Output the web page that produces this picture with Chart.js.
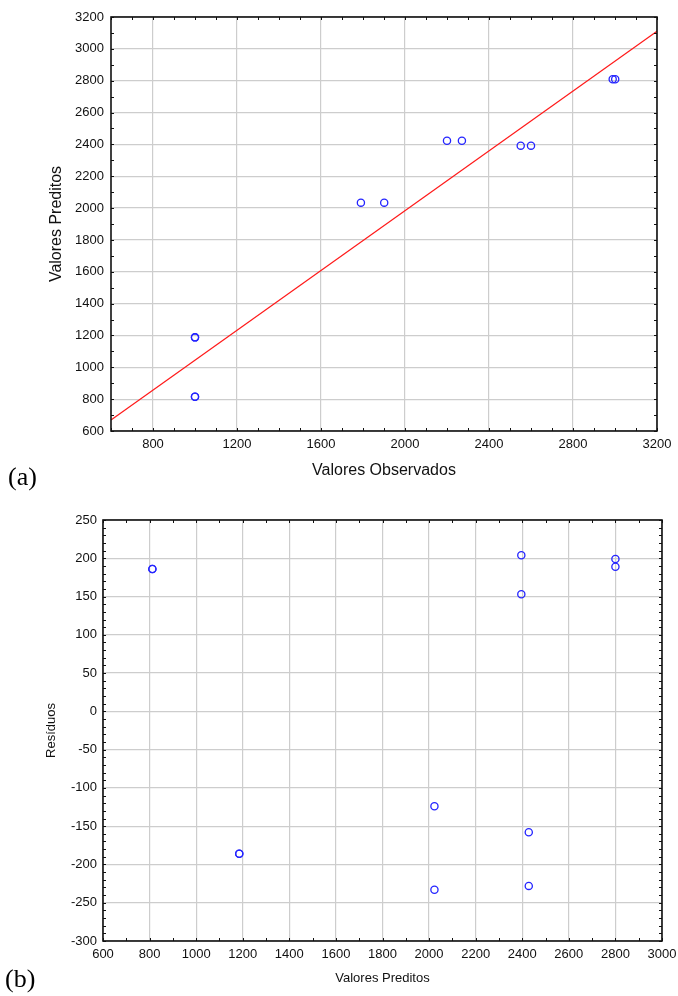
<!DOCTYPE html>
<html>
<head>
<meta charset="utf-8">
<script src="https://cdn.jsdelivr.net/npm/chart.js@4"></script>
<style>
    body { margin: 0; background: #fff; width: 678px; height: 996px; position: relative; overflow: hidden; }
    canvas { position: absolute; left: 0; }
    #chartA { top: 0; }
    #chartB { top: 490px; }
    .tag { position: absolute; font-family: "Liberation Serif", "Times New Roman", serif; font-size: 26px; line-height: 26px; color: #000; }
</style>
</head>
<body>
<canvas id="chartA" width="678" height="490"></canvas>
<canvas id="chartB" width="678" height="506"></canvas>
<div class="tag" style="left:8px; top:464px;">(a)</div>
<div class="tag" style="left:5px; top:966px;">(b)</div>
<script>
/*
    (a) observed vs predicted with fitted line
    (b) residuals vs predicted
*/

// panel (a)
const observados = [1000, 1000, 1000, 1000, 1790, 1901, 2200, 2271, 2551, 2600, 2989, 3001];
const preditosA  = [815, 815, 1188, 1188, 2034, 2034, 2423, 2423, 2392, 2392, 2809, 2809];
const fitX = [600, 3200];
const fitY = [669, 3111];
const ticksXA = [800, 1200, 1600, 2000, 2400, 2800, 3200];
const ticksYA = [600, 800, 1000, 1200, 1400, 1600, 1800, 2000, 2200, 2400, 2600, 2800, 3000, 3200];

// panel (b)
const preditosB = [812, 812, 1185, 1185, 2023, 2023, 2428, 2428, 2396, 2396, 2800, 2800];
const residuos  = [186, 186, -186, -186, -233, -124, -228, -158, 153, 204, 189, 199];
const ticksXB = [600, 800, 1000, 1200, 1400, 1600, 1800, 2000, 2200, 2400, 2600, 2800, 3000];
const ticksYB = [-300, -250, -200, -150, -100, -50, 0, 50, 100, 150, 200, 250];

const FONT = '"Liberation Sans", Arial, sans-serif';

// black box round the plot area with small inward ticks on all four sides
const frameTicks = {
    id: 'frameTicks',
    afterDraw(chart, args, opts) {
        const {ctx, chartArea: a, scales: {x, y}} = chart;
        ctx.save();
        ctx.strokeStyle = '#111';
        ctx.lineWidth = 1;
        ctx.beginPath();
        for (let v = x.min; v <= x.max; v += opts.xStep) {
            const px = Math.round(x.getPixelForValue(v)) + 0.5;
            ctx.moveTo(px, a.top); ctx.lineTo(px, a.top + 3);
            ctx.moveTo(px, a.bottom); ctx.lineTo(px, a.bottom - 3);
        }
        for (let v = y.min; v <= y.max; v += opts.yStep) {
            const py = Math.round(y.getPixelForValue(v)) + 0.5;
            ctx.moveTo(a.left, py); ctx.lineTo(a.left + 3, py);
            ctx.moveTo(a.right, py); ctx.lineTo(a.right - 3, py);
        }
        ctx.stroke();
        ctx.lineWidth = 1.6;
        ctx.strokeRect(a.left, a.top, a.right - a.left, a.bottom - a.top);
        ctx.restore();
    }
};

function fixedTicks(values) {
    return scale => { scale.ticks = values.map(v => ({value: v})); };
}

function axis(opts) {
    return {
        type: 'linear',
        min: opts.min,
        max: opts.max,
        afterBuildTicks: fixedTicks(opts.ticks),
        afterFit: scale => {
            if (scale.isHorizontal()) {
                scale.height = opts.size;
                // edge labels may hang past the plot area; don't shrink it for them
                scale.paddingLeft = 0;
                scale.paddingRight = 0;
            } else {
                scale.width = opts.size;
            }
        },
        border: {display: false},
        grid: {color: '#cdcdcd', lineWidth: 1.2, drawTicks: false},
        ticks: {
            color: '#111',
            padding: opts.padding,
            autoSkip: false,
            maxRotation: 0,
            font: {family: FONT, size: 13},
            // plain numbers, no thousands separator
            callback: value => String(value)
        },
        title: {
            display: true,
            text: opts.title,
            color: '#111',
            padding: opts.titlePad,
            font: {family: FONT, size: opts.titleSize}
        }
    };
}

const pointStyle = {
    type: 'scatter',
    pointRadius: 3.6,
    pointHoverRadius: 3.6,
    pointBackgroundColor: 'rgba(0,0,0,0)',
    pointBorderColor: '#2424ff',
    pointBorderWidth: 1.3
};

const chartA = new Chart('chartA', {
    type: 'scatter',
    data: {
        datasets: [
            Object.assign({
                data: observados.map((v, i) => ({x: v, y: preditosA[i]}))
            }, pointStyle),
            {
                type: 'scatter',
                showLine: true,
                data: fitX.map((v, i) => ({x: v, y: fitY[i]})),
                borderColor: '#ff1a1a',
                borderWidth: 1.2,
                pointRadius: 0
            }
        ]
    },
    options: {
        responsive: false,
        animation: false,
        layout: {padding: {top: 17, right: 21, left: 0, bottom: 0}},
        plugins: {
            legend: {display: false},
            tooltip: {enabled: false},
            frameTicks: {xStep: 100, yStep: 100}
        },
        scales: {
            x: axis({min: 600, max: 3200, ticks: ticksXA, size: 59, padding: 6,
                title: 'Valores Observados', titleSize: 16, titlePad: {top: 0, bottom: 10}}),
            y: axis({min: 600, max: 3200, ticks: ticksYA, size: 111, padding: 7,
                title: 'Valores Preditos', titleSize: 16, titlePad: {top: 47, bottom: 0}})
        }
    },
    plugins: [frameTicks]
});

const chartB = new Chart('chartB', {
    type: 'scatter',
    data: {
        datasets: [
            Object.assign({
                data: preditosB.map((v, i) => ({x: v, y: residuos[i]}))
            }, pointStyle)
        ]
    },
    options: {
        responsive: false,
        animation: false,
        layout: {padding: {top: 30, right: 16, left: 0, bottom: 0}},
        plugins: {
            legend: {display: false},
            tooltip: {enabled: false},
            frameTicks: {xStep: 100, yStep: 10}
        },
        scales: {
            x: axis({min: 600, max: 3000, ticks: ticksXB, size: 55, padding: 6,
                title: 'Valores Preditos', titleSize: 13, titlePad: {top: 0, bottom: 10}}),
            y: axis({min: -300, max: 250, ticks: ticksYB, size: 103, padding: 6,
                title: 'Resíduos', titleSize: 13, titlePad: {top: 44, bottom: 0}})
        }
    },
    plugins: [frameTicks]
});
</script>
</body>
</html>
